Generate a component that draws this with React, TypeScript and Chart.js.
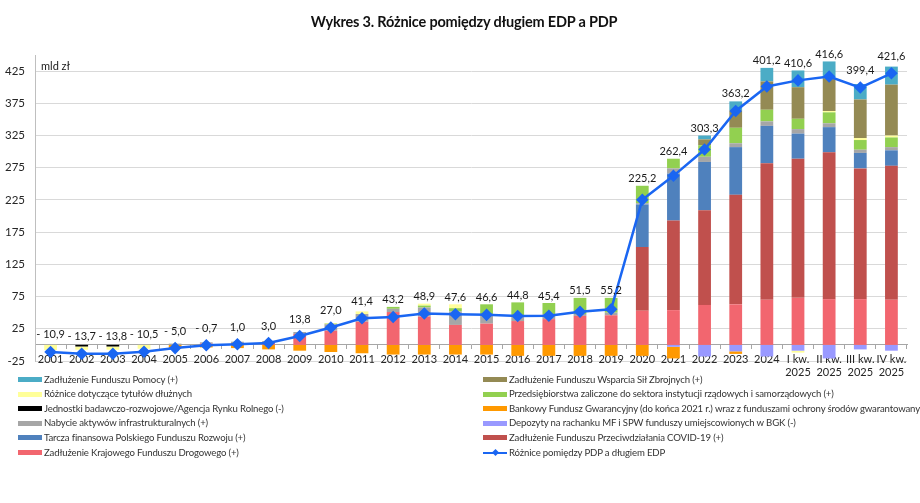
import React, { useEffect, useRef } from 'react';
import { Chart, registerables } from 'chart.js';

Chart.register(...registerables);

const FONT = 'Lato, "Open Sans", sans-serif';

const categories: (string | string[])[] = [
  '2001', '2002', '2003', '2004', '2005', '2006', '2007', '2008', '2009', '2010',
  '2011', '2012', '2013', '2014', '2015', '2016', '2017', '2018', '2019', '2020',
  '2021', '2022', '2023', '2024',
  ['I kw.', '2025'], ['II kw.', '2025'], ['III kw.', '2025'], ['IV kw.', '2025'],
];

const yTickValues = [-25, 25, 75, 125, 175, 225, 275, 325, 375, 425];

// Różnice pomiędzy PDP a długiem EDP (line)
const roznicaPdpEdp = [
  -10.9, -13.7, -13.8, -10.5, -5.0, -0.7, 1.0, 3.0, 13.8, 27.0,
  41.4, 43.2, 48.9, 47.6, 46.6, 44.8, 45.4, 51.5, 55.2, 225.2,
  262.4, 303.3, 363.2, 401.2, 410.6, 416.6, 399.4, 421.6,
];

const krajowyFunduszDrogowy = [
  0, 0, 0, 0, 0, 2, 3, 3, 17, 22,
  36, 51, 44, 31, 33, 37, 40, 45, 46, 53,
  54, 62, 63, 70, 73, 71, 71, 70,
];
const funduszCovid = [
  0, 0, 0, 0, 0, 0, 0, 0, 0, 0,
  0, 0, 0, 0, 0, 0, 0, 0, 0, 99,
  139, 147, 170, 212, 216, 228, 203, 208,
];
const tarczaPfr = [
  0, 0, 0, 0, 0, 0, 0, 0, 0, 0,
  0, 0, 0, 0, 0, 0, 0, 0, 0, 66,
  73, 75, 74, 58, 39, 39, 24, 24,
];
const nabycieAktywow = [
  0, 0, 0, 0, 2, 2, 2, 3, 3, 10,
  12, 5, 14, 21, 13, 8, 8, 3, 4, 2,
  8, 8, 6, 7, 7, 6, 5, 5,
];
const jednostkiBadawcze = [
  0, -2.5, -2.5, 0, 0, 0, 0, 0, 0, 0,
  0, 0, 0, 0, 0, 0, 0, 0, 0, 0,
  0, 0, 0, 0, 0, 0, 0, 0,
];
const depozytyMf = [
  0, 0, 0, 0, 0, 0, 0, 0, 0, 0,
  0, 0, 0, 0, 0, 0, 0, 0, 0, 0,
  -3, -18, -10, -18, -9, -21, -7, -9,
];
const bankowyFundusz = [
  0, 0, 0, 0, -5, -4, -5, -7, -9, -11,
  -13, -15, -15, -15, -15, -17, -17, -17, -17, -17,
  -18, 0, -4, 0, 0, 0, 0, 0,
];
const przedsiebiorstwa = [
  0, 0, 0, 0, 0, 0, 0, 0, 0, 1,
  0, 3, 3, 5, 17, 21, 17, 25, 23, 27,
  15, 18, 24, 18, 16, 17, 15, 15,
];
const rozniceTytulow = [
  -8, -5, -5, -6, 0, 0, 0, 0, 0, 1,
  4, 0, 3, 6, 0, 0, 0, 0, 0, 0,
  0, 0, 0, 0, -3, 2, 3, 3,
];
const funduszWsparciaSz = [
  0, 0, 0, 0, 0, 0, 0, 0, 0, 0,
  0, 0, 0, 0, 0, 0, 0, 0, 0, 0,
  0, 9, 27, 44, 49, 51, 60, 79,
];
const funduszPomocy = [
  0, 0, 0, 0, 0, 0, 0, 0, 0, 0,
  0, 0, 0, 0, 0, 0, 0, 0, 0, 0,
  0, 6, 14, 21, 26, 26, 24, 28,
];

const LINE_COLOR = '#1A66F2';

// stacking order (bottom → top for positives, zero → down for negatives)
const barSeries = [
  { label: 'Zadłużenie Krajowego Funduszu Drogowego (+)', data: krajowyFunduszDrogowy, color: '#F2666F' },
  { label: 'Zadłużenie Funduszu Przeciwdziałania COVID-19 (+)', data: funduszCovid, color: '#C0504D' },
  { label: 'Tarcza finansowa Polskiego Funduszu Rozwoju (+)', data: tarczaPfr, color: '#4F81BD' },
  { label: 'Nabycie aktywów infrastrukturalnych (+)', data: nabycieAktywow, color: '#A6A6A6' },
  { label: 'Jednostki badawczo-rozwojowe/Agencja Rynku Rolnego (-)', data: jednostkiBadawcze, color: '#000000' },
  { label: 'Depozyty na rachanku MF i SPW funduszy umiejscowionych w BGK (-)', data: depozytyMf, color: '#9999FF' },
  { label: 'Bankowy Fundusz Gwarancyjny (do końca 2021 r.) wraz z funduszami ochrony środów gwarantowanych', data: bankowyFundusz, color: '#FF9900' },
  { label: 'Przedsiębiorstwa zaliczone do sektora instytucji rządowych i samorządowych (+)', data: przedsiebiorstwa, color: '#92D050' },
  { label: 'Różnice dotyczące tytułów dłużnych', data: rozniceTytulow, color: '#FFFF99' },
  { label: 'Zadłużenie Funduszu Wsparcia Sił Zbrojnych (+)', data: funduszWsparciaSz, color: '#948A54' },
  { label: 'Zadłużenie Funduszu Pomocy (+)', data: funduszPomocy, color: '#4BACC6' },
];

const legendLeft = [
  'Zadłużenie Funduszu Pomocy (+)',
  'Różnice dotyczące tytułów dłużnych',
  'Jednostki badawczo-rozwojowe/Agencja Rynku Rolnego (-)',
  'Nabycie aktywów infrastrukturalnych (+)',
  'Tarcza finansowa Polskiego Funduszu Rozwoju (+)',
  'Zadłużenie Krajowego Funduszu Drogowego (+)',
];
const legendRight = [
  'Zadłużenie Funduszu Wsparcia Sił Zbrojnych (+)',
  'Przedsiębiorstwa zaliczone do sektora instytucji rządowych i samorządowych (+)',
  'Bankowy Fundusz Gwarancyjny (do końca 2021 r.) wraz z funduszami ochrony środów gwarantowanych',
  'Depozyty na rachanku MF i SPW funduszy umiejscowionych w BGK (-)',
  'Zadłużenie Funduszu Przeciwdziałania COVID-19 (+)',
  'Różnice pomiędzy PDP a długiem EDP',
];

const fmt = (v: number) => {
  const s = Math.abs(v).toFixed(1).replace('.', ',');
  return v < 0 ? '- ' + s : s;
};

const labelsPlugin = {
  id: 'valueLabels',
  afterDatasetsDraw(chart: any) {
    const { ctx, chartArea } = chart;
    const x = chart.scales.x;
    const y = chart.scales.y;
    ctx.save();
    ctx.font = `11px ${FONT}`;
    ctx.fillStyle = '#1a1a1a';
    ctx.textAlign = 'center';
    ctx.textBaseline = 'middle';
    roznicaPdpEdp.forEach((v, i) => {
      const posSum = barSeries.reduce((s, ser) => s + Math.max(0, ser.data[i]), 0);
      const px = x.getPixelForValue(i);
      const ly = Math.min(y.getPixelForValue(v) - 17, y.getPixelForValue(posSum) - 7);
      ctx.fillText(fmt(v), px, ly);
    });
    ctx.textAlign = 'left';
    ctx.fillText('mld zł', chartArea.left + 6, chartArea.top + 11);
    ctx.restore();
  },
};

function Swatch({ color, isLine }: { color: string; isLine?: boolean }) {
  if (isLine) {
    return (
      <div style={{ position: 'absolute', left: 0, top: 0, width: 24, height: 14 }}>
        <div style={{ position: 'absolute', left: 0, top: 6, width: 24, height: 2.5, background: color }} />
        <div style={{ position: 'absolute', left: 9.5, top: 4.5, width: 5, height: 5, background: color, transform: 'rotate(45deg)' }} />
      </div>
    );
  }
  return <div style={{ position: 'absolute', left: 0, top: 4.5, width: 24, height: 5, background: color }} />;
}

export default function App() {
  const ref = useRef<HTMLCanvasElement>(null);

  useEffect(() => {
    if (!ref.current) return;
    const datasets: any[] = [
      {
        type: 'line',
        label: 'Różnice pomiędzy PDP a długiem EDP',
        data: roznicaPdpEdp,
        borderColor: LINE_COLOR,
        backgroundColor: LINE_COLOR,
        borderWidth: 2.5,
        pointStyle: 'rectRot',
        pointRadius: 4.5,
        pointBackgroundColor: LINE_COLOR,
        pointBorderColor: LINE_COLOR,
        tension: 0,
        order: 0,
      },
      ...barSeries.map((s) => ({
        type: 'bar',
        label: s.label,
        data: s.data,
        backgroundColor: s.color,
        borderWidth: 0,
        categoryPercentage: 1,
        barPercentage: 0.41,
        order: 1,
      })),
    ];

    const chart = new Chart(ref.current, {
      type: 'bar',
      data: { labels: categories as any, datasets },
      options: {
        animation: false,
        responsive: false,
        devicePixelRatio: 1,
        layout: { padding: { left: 0, top: 55, right: 13, bottom: 142 } },
        plugins: {
          legend: { display: false },
          tooltip: { enabled: false },
          title: { display: false },
        },
        scales: {
          x: {
            stacked: true,
            position: { y: 0 } as any,
            afterFit: (scale: any) => { scale.height = 0; },
            grid: { drawOnChartArea: false, drawTicks: true, tickLength: 4, color: '#A6A6A6' },
            border: { display: true, color: '#A6A6A6' },
            ticks: {
              autoSkip: false,
              maxRotation: 0,
              minRotation: 0,
              padding: 4,
              font: { family: FONT, size: 11 },
              color: '#262626',
            },
          },
          y: {
            stacked: true,
            min: -25,
            max: 450,
            afterBuildTicks: (scale: any) => {
              scale.ticks = yTickValues.map((v) => ({ value: v }));
            },
            afterFit: (scale: any) => { scale.width = 35; },
            grid: { color: '#D9D9D9', drawTicks: false },
            border: { display: true, color: '#BFBFBF' },
            ticks: { padding: 10, font: { family: FONT, size: 11.5 }, color: '#262626' },
          },
        },
      },
      plugins: [labelsPlugin],
    } as any);

    return () => chart.destroy();
  }, []);

  const rowTop = (k: number) => 372.5 + k * 14.6;
  const colorFor = (label: string) => barSeries.find((s) => s.label === label)?.color || LINE_COLOR;
  const textStyle: React.CSSProperties = {
    position: 'absolute', left: 26, top: 0, fontSize: 9.6, letterSpacing: '-0.15px', lineHeight: '14px', whiteSpace: 'nowrap',
  };

  return (
    <div style={{ position: 'fixed', left: 0, top: 0, width: 920, height: 503, background: '#fff', fontFamily: FONT, color: '#333' }}>
      <canvas ref={ref} width={920} height={503} style={{ position: 'absolute', left: 0, top: 0, width: 920, height: 503 }} />
      <div style={{ position: 'absolute', left: 0, top: 12, width: 928, textAlign: 'center', fontWeight: 700, fontSize: 14.5, letterSpacing: '-0.2px', lineHeight: '20px', color: '#111' }}>
        Wykres 3. Różnice pomiędzy długiem EDP a PDP
      </div>
      {legendLeft.map((t, k) => (
        <div key={'l' + k} style={{ position: 'absolute', left: 18, top: rowTop(k), height: 14, width: 440 }}>
          <Swatch color={colorFor(t)} />
          <div style={textStyle}>{t}</div>
        </div>
      ))}
      {legendRight.map((t, k) => (
        <div key={'r' + k} style={{ position: 'absolute', left: 483, top: rowTop(k), height: 14, width: 437 }}>
          <Swatch color={colorFor(t)} isLine={k === 5} />
          <div style={textStyle}>{t}</div>
        </div>
      ))}
    </div>
  );
}
